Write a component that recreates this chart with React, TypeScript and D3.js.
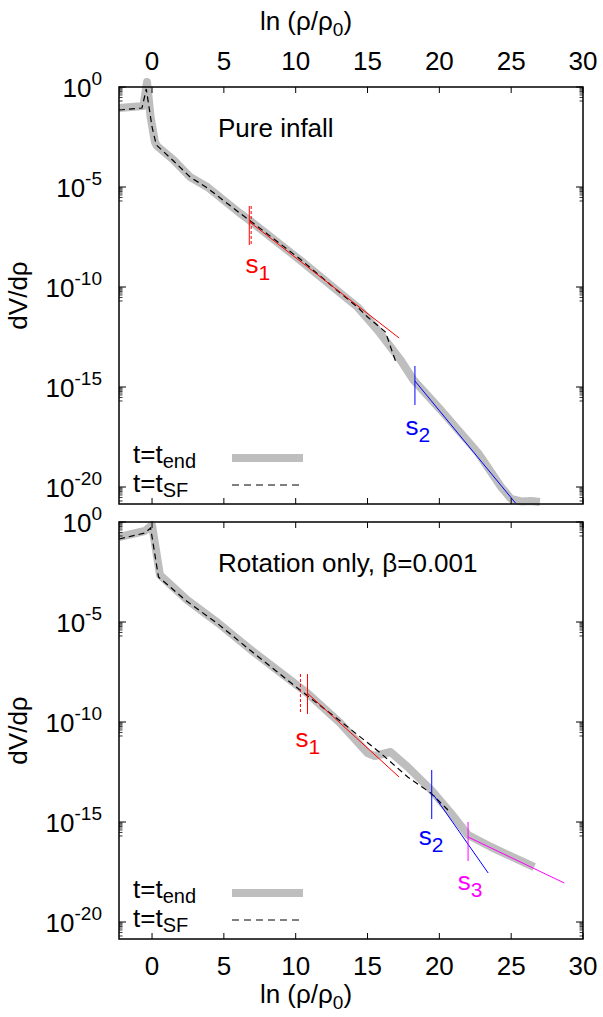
import React from "react";
import * as d3 from "d3";

// ---------- data ----------
const lnTicks = [0, 5, 10, 15, 20, 25, 30];
const yMajorExp = [0, -5, -10, -15, -20];

// Top panel (pure infall): ln(rho/rho0) and log10(dV/drho)
const topEndX = [-2.3, -0.6, -0.35, -0.1, 0.2, 0.35, 1.5, 2.65, 3.85, 6.1, 6.85, 10.3, 13.1, 14.3, 15.7, 17.3, 18.2, 20.1, 22.7, 24.3, 25.0, 25.7, 26.4, 27.0];
const topEndY = [-1.05, -0.95, 0.25, -1.5, -2.75, -2.95, -3.65, -4.5, -5.0, -6.3, -6.7, -8.65, -10.3, -11.0, -12.15, -13.65, -14.65, -16.15, -18.3, -20.0, -20.6, -20.72, -20.7, -20.75];
const topSFX = [-2.3, -0.7, -0.4, 0.0, 0.3, 1.5, 2.65, 3.85, 6.1, 6.85, 10.3, 13.1, 14.3, 15.0, 16.25, 16.8, 17.0];
const topSFY = [-1.15, -1.05, -0.1, -2.0, -2.9, -3.7, -4.5, -5.05, -6.3, -6.7, -8.6, -10.3, -11.0, -11.5, -12.25, -13.4, -13.8];

// Bottom panel (rotation only)
const botEndX = [-2.3, -0.5, 0.0, 0.55, 2.45, 4.6, 6.9, 10.8, 13.1, 15.0, 15.5, 16.6, 17.8, 19.5, 20.8, 22.0, 23.6, 26.6];
const botEndY = [-0.75, -0.45, -0.15, -2.65, -3.9, -5.05, -6.4, -8.55, -10.05, -11.55, -11.7, -11.5, -12.25, -13.45, -14.55, -15.65, -16.25, -17.25];
const botSFX = [-2.3, -0.5, -0.1, 0.45, 2.4, 4.6, 6.9, 10.3, 13.1, 15.9, 17.8, 19.4, 20.6];
const botSFY = [-0.85, -0.55, -0.3, -2.75, -3.95, -5.1, -6.45, -8.4, -9.95, -11.55, -12.75, -13.55, -14.4];

// Power-law fits [x0, e0, x1, e1]
const topFits = [
  { c: "#ff0000", seg: [6.8, -6.75, 17.2, -12.55] },
  { c: "#0000ff", seg: [18.3, -14.7, 25.3, -20.8] },
];
const botFits = [
  { c: "#ff0000", seg: [10.8, -8.55, 17.2, -12.75] },
  { c: "#0000ff", seg: [19.6, -13.65, 23.4, -17.55] },
  { c: "#ff00ff", seg: [22.0, -15.75, 28.7, -18.05] },
];
// Markers: x, e top, e bottom, colour, dashed
const topMarks = [
  { x: 6.77, e0: -5.95, e1: -7.9, c: "#ff0000", d: false },
  { x: 6.9, e0: -5.95, e1: -7.9, c: "#ff0000", d: true },
  { x: 18.3, e0: -13.95, e1: -15.9, c: "#0000ff", d: false },
];
const botMarks = [
  { x: 10.33, e0: -7.6, e1: -9.6, c: "#ff0000", d: true },
  { x: 10.82, e0: -7.6, e1: -9.6, c: "#ff0000", d: false },
  { x: 19.47, e0: -12.4, e1: -14.85, c: "#0000ff", d: false },
  { x: 22.0, e0: -15.0, e1: -16.95, c: "#ff00ff", d: false },
];
const topLabels = [
  { x: 6.5, e: -9.3, c: "#ff0000", sub: "1" },
  { x: 17.65, e: -17.4, c: "#0000ff", sub: "2" },
];
const botLabels = [
  { x: 9.98, e: -11.25, c: "#ff0000", sub: "1" },
  { x: 18.56, e: -16.15, c: "#0000ff", sub: "2" },
  { x: 21.28, e: -18.4, c: "#ff00ff", sub: "3" },
];

// ---------- layout ----------
const W = 603;
const H = 1017;
const LEFT = 119;
const RIGHT = 583;
const PANEL_H = 417;
const TOP1 = 87;
const TOP2 = 522;
const FONT = "'Liberation Sans', Arial, Helvetica, sans-serif";
const FS = 26;
const GRAY = "#bebebe";

const x = d3.scaleLinear().domain([-2.3, 30]).range([LEFT, RIGHT]);

function Panel({ top, endX, endY, sfX, sfY, fits, marks, labels, title, topAxis }) {
  const y = d3.scaleLog().domain([1, Math.pow(10, -20.85)]).range([top, top + PANEL_H]);
  const Y = (e) => y(Math.pow(10, e));
  const line = d3.line().x((d) => x(d[0])).y((d) => Y(d[1]));
  const endPts = endX.map((v, i) => [v, endY[i]]);
  const sfPts = sfX.map((v, i) => [v, sfY[i]]);
  const bottom = top + PANEL_H;
  const minors = [];
  yMajorExp.forEach((e) => {
    for (let k = 2; k <= 9; k++) minors.push(Math.log10(k) + e - 1);
  });
  return (
    <g>
      {/* curves */}
      <path d={line(endPts)} fill="none" stroke={GRAY} strokeWidth={8} strokeLinejoin="round" />
      <path d={line(sfPts)} fill="none" stroke="#000" strokeWidth={1.2} strokeDasharray="6,4" />
      {fits.map((f, i) => (
        <path key={i} d={line([[f.seg[0], f.seg[1]], [f.seg[2], f.seg[3]]])} stroke={f.c} strokeWidth={1} fill="none" />
      ))}
      {marks.map((m, i) => (
        <line key={i} x1={x(m.x)} x2={x(m.x)} y1={Y(m.e0)} y2={Y(m.e1)} stroke={m.c} strokeWidth={1}
          strokeDasharray={m.d ? "3,2" : undefined} />
      ))}
      {labels.map((l, i) => (
        <text key={i} x={x(l.x)} y={Y(l.e)} fill={l.c} fontSize={FS} fontFamily={FONT}>
          s<tspan fontSize={21} dy={7}>{l.sub}</tspan>
        </text>
      ))}
      <text x={218} y={top + 50} fontSize={FS} fontFamily={FONT}>{title}</text>
      {/* legend */}
      <text x={133} y={top + 376} fontSize={FS} fontFamily={FONT}>
        t=t<tspan fontSize={20} dy={5}>end</tspan>
      </text>
      <line x1={232} x2={303} y1={top + 371} y2={top + 371} stroke={GRAY} strokeWidth={8} />
      <text x={133} y={top + 405} fontSize={FS} fontFamily={FONT}>
        t=t<tspan fontSize={20} dy={5}>SF</tspan>
      </text>
      <line x1={232} x2={303} y1={top + 398} y2={top + 398} stroke="#000" strokeWidth={1} strokeDasharray="7,5" />
      {/* frame */}
      <rect x={LEFT} y={top} width={RIGHT - LEFT} height={PANEL_H} fill="none" stroke="#000" strokeWidth={1.5} />
      {/* x ticks */}
      {lnTicks.map((t) => (
        <g key={t}>
          <line x1={x(t)} x2={x(t)} y1={top} y2={top + 6} stroke="#000" strokeWidth={1} />
          <line x1={x(t)} x2={x(t)} y1={bottom} y2={bottom - 6} stroke="#000" strokeWidth={1} />
          <text x={x(t)} y={topAxis ? 70 : 975} textAnchor="middle" fontSize={FS} fontFamily={FONT}>{t}</text>
        </g>
      ))}
      {/* y ticks */}
      {yMajorExp.map((e) => (
        <g key={e}>
          <line x1={LEFT} x2={LEFT + 7} y1={Y(e)} y2={Y(e)} stroke="#000" strokeWidth={1} />
          <line x1={RIGHT} x2={RIGHT - 7} y1={Y(e)} y2={Y(e)} stroke="#000" strokeWidth={1} />
          <text x={102} y={Y(e) + 10} textAnchor="end" fontSize={FS} fontFamily={FONT}>
            10<tspan fontSize={19} dy={-12}>{e}</tspan>
          </text>
        </g>
      ))}
      {minors.map((m, i) => (
        <g key={i}>
          <line x1={LEFT} x2={LEFT + 3.5} y1={Y(m)} y2={Y(m)} stroke="#000" strokeWidth={0.8} />
          <line x1={RIGHT} x2={RIGHT - 3.5} y1={Y(m)} y2={Y(m)} stroke="#000" strokeWidth={0.8} />
        </g>
      ))}
      <text transform={`translate(27,${top + PANEL_H / 2}) rotate(-90)`} textAnchor="middle" fontSize={FS} fontFamily={FONT}>
        dV/dρ
      </text>
    </g>
  );
}

function AxisTitle({ yb }) {
  return (
    <text x={306} y={yb} textAnchor="middle" fontSize={FS} fontFamily={FONT}>
      ln (ρ/ρ<tspan fontSize={19} dy={6}>0</tspan><tspan dy={-6}>)</tspan>
    </text>
  );
}

export default function App() {
  return (
    <svg width={W} height={H} style={{ position: "absolute", left: 0, top: 0, background: "#fff" }}>
      <rect width={W} height={H} fill="#fff" />
      <Panel top={TOP1} endX={topEndX} endY={topEndY} sfX={topSFX} sfY={topSFY} fits={topFits}
        marks={topMarks} labels={topLabels} title="Pure infall" topAxis={true} />
      <Panel top={TOP2} endX={botEndX} endY={botEndY} sfX={botSFX} sfY={botSFY} fits={botFits}
        marks={botMarks} labels={botLabels} title="Rotation only, β=0.001" topAxis={false} />
      <AxisTitle yb={30} />
      <AxisTitle yb={1003} />
    </svg>
  );
}
